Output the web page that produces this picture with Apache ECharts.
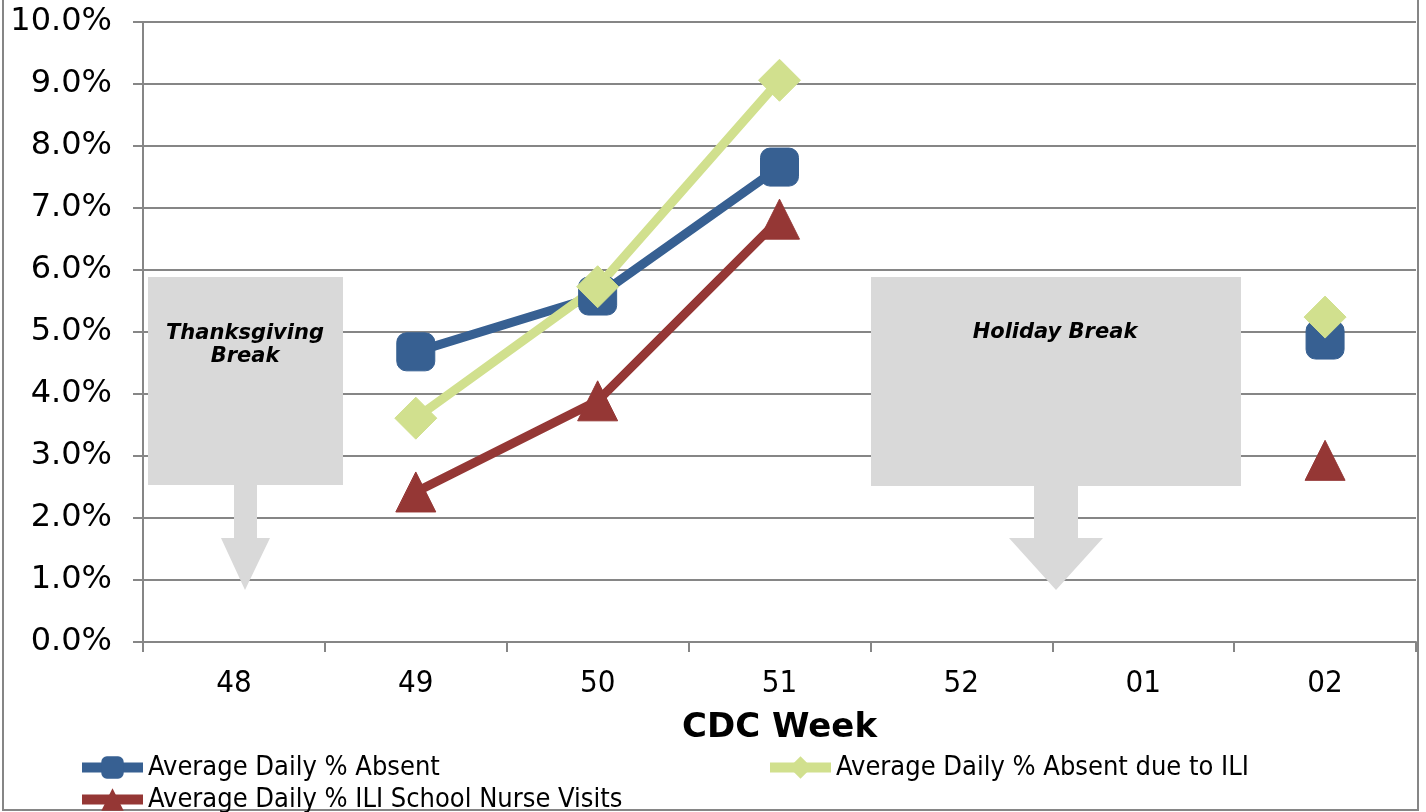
<!DOCTYPE html>
<html>
<head>
<meta charset="utf-8">
<script src="https://cdn.jsdelivr.net/npm/echarts@6/dist/echarts.min.js"></script>
<style>html,body{margin:0;padding:0;background:#fff}#c{width:1426px;height:812px}</style>
</head>
<body>
<div id="c"></div>
<script>
const weeks = ['48', '49', '50', '51', '52', '01', '02'];
const absent = [null, 4.68, 5.58, 7.66, null, null, 4.87];
const absentILI = [null, 3.61, 5.73, 9.06, null, null, 5.24];
const nurseVisits = [null, 2.42, 3.89, 6.82, null, null, 2.93];
const seriesNames = ['Average Daily % Absent', 'Average Daily % Absent due to ILI', 'Average Daily % ILI School Nurse Visits'];
const annotations = ['Thanksgiving\nBreak', 'Holiday Break'];

const gray = '#868686';
const boxFill = '#D9D9D9';
const legendFont = '"DejaVu Sans Condensed", "DejaVu Sans", sans-serif';
const chart = echarts.init(document.getElementById('c'), null, {renderer: 'canvas'});

function mkSeries(name, data, color, symbol, size) {
  return {
    name: name, type: 'line', data: data, connectNulls: false,
    symbol: symbol, symbolSize: size, showSymbol: true,
    lineStyle: {color: color, width: 9},
    itemStyle: {color: color, borderColor: color},
    z: 5
  };
}

const legendCommon = {
  padding: 0,
  itemWidth: 61, itemHeight: 28, itemGap: 2,
  lineStyle: {width: 10},
  textStyle: {fontSize: 27, color: '#000', fontFamily: legendFont}
};

chart.setOption({
  animation: false,
  backgroundColor: '#fff',
  textStyle: {fontFamily: 'DejaVu Sans'},
  grid: {left: 143, right: 10, top: 22, bottom: 170},
  xAxis: {
    type: 'category', data: weeks, boundaryGap: true,
    axisLine: {lineStyle: {color: gray, width: 2}},
    axisTick: {show: true, length: 10, lineStyle: {color: gray, width: 2}},
    axisLabel: {color: '#000', fontSize: 31, margin: 26, fontFamily: '"DejaVu Sans Condensed", "DejaVu Sans"'},
    name: 'CDC Week', nameLocation: 'middle', nameGap: 69,
    nameTextStyle: {color: '#000', fontSize: 34, fontWeight: 'bold', fontFamily: 'DejaVu Sans'}
  },
  yAxis: {
    type: 'value', min: 0, max: 10, interval: 1,
    axisLine: {show: true, lineStyle: {color: gray, width: 2}},
    axisTick: {show: true, length: 10, lineStyle: {color: gray, width: 2}},
    splitLine: {lineStyle: {color: gray, width: 2}},
    axisLabel: {color: '#000', fontSize: 32, margin: 31, fontFamily: 'DejaVu Sans',
      formatter: v => v.toFixed(1) + '%'}
  },
  legend: [
    Object.assign({data: [seriesNames[0]], left: 77, top: 754}, legendCommon),
    Object.assign({data: [seriesNames[1]], left: 765, top: 754}, legendCommon),
    Object.assign({data: [seriesNames[2]], left: 77, top: 786}, legendCommon)
  ],
  series: [
    mkSeries(seriesNames[0], absent, '#376092', 'roundRect', 38),
    mkSeries(seriesNames[1], absentILI, '#D1E08E', 'diamond', 42),
    mkSeries(seriesNames[2], nurseVisits, '#953735', 'triangle', 40)
  ],
  graphic: [
    {type: 'rect', shape: {x: 3, y: -5, width: 1415, height: 815}, style: {fill: null, stroke: gray, lineWidth: 2}, z: 1},
    {type: 'rect', shape: {x: 148, y: 277, width: 195, height: 208}, style: {fill: boxFill}, z: 3},
    {type: 'polygon', shape: {points: [[234,485],[257,485],[257,538],[270,538],[245,590],[221,538],[234,538]]}, style: {fill: boxFill}, z: 3},
    {type: 'text', x: 245, y: 322, style: {text: annotations[0], font: 'italic bold 21px "DejaVu Sans"', fill: '#000', align: 'center', verticalAlign: 'top', lineHeight: 23}, z: 4},
    {type: 'rect', shape: {x: 871, y: 277, width: 370, height: 209}, style: {fill: boxFill}, z: 3},
    {type: 'polygon', shape: {points: [[1034,486],[1078,486],[1078,538],[1103,538],[1056,590],[1009,538],[1034,538]]}, style: {fill: boxFill}, z: 3},
    {type: 'text', x: 1055, y: 322, style: {text: annotations[1], font: 'italic bold 21px "DejaVu Sans"', fill: '#000', align: 'center', verticalAlign: 'top'}, z: 4}
  ]
});
</script>
</body>
</html>
